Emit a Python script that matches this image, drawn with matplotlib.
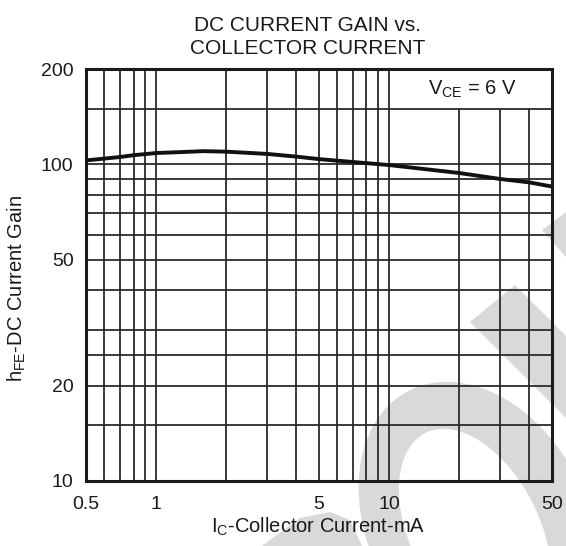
import matplotlib
matplotlib.use('Agg')
import matplotlib.pyplot as plt
from matplotlib.patches import Ellipse, Polygon

plt.rcParams['font.family'] = ['Liberation Sans', 'DejaVu Sans']
plt.rcParams['mathtext.fontset'] = 'custom'
plt.rcParams['mathtext.rm'] = 'Liberation Sans'

# curve
ic = [0.5, 0.6, 0.7, 0.8, 1.0, 1.3, 1.6, 2.0, 3.0, 4.0, 5.0, 10.0, 20.0, 30.0, 40.0, 50.0]
hfe = [103, 104.4, 105.6, 107, 108.7, 109.5, 110.2, 109.8, 108, 105.9, 104, 99.6, 94, 90, 87.8, 85.2]

x_grid = [0.6, 0.7, 0.8, 0.9, 1, 2, 3, 4, 5, 6, 7, 8, 9, 10, 20, 30, 40]
x_short = [20, 30, 40]          # these stop under the V_CE box
y_grid = [15, 20, 25, 30, 40, 50, 60, 70, 80, 90, 100, 150]
x_ticks = [0.5, 1, 5, 10, 50]
y_ticks = [10, 20, 50, 100, 200]

W, H = 566, 546
fig = plt.figure(figsize=(W / 100, H / 100), dpi=100)


def px(x, y):
    return (x / W, 1 - y / H)


# grey watermark pieces behind the grid
wm = '#d9d9d9'
fig.patches.append(Ellipse(px(478, 525), 220 / W, 300 / H, angle=25, transform=fig.transFigure,
                           facecolor=wm, edgecolor='none', zorder=-3))
fig.patches.append(Ellipse(px(475, 532), 130 / W, 220 / H, angle=25, transform=fig.transFigure,
                           facecolor='white', edgecolor='none', zorder=-2))
for pts in ([(470, 322), (515, 285), (566, 336), (566, 418)],
            [(542, 230), (566, 212), (566, 257)],
            [(262, 546), (300, 518), (330, 512), (350, 520), (362, 546)]):
    fig.patches.append(Polygon([px(*p) for p in pts], closed=True, transform=fig.transFigure,
                               facecolor=wm, edgecolor='none', zorder=-3))

ax = fig.add_axes([86 / W, 1 - 480.7 / H, 465.7 / W, 411.4 / H])
ax.set_facecolor('none')
ax.set_xscale('log')
ax.set_yscale('log')
ax.set_xlim(0.5, 50)
ax.set_ylim(10, 200)

gc = '#2a2a2a'
for x in x_grid:
    top = 150 if x in x_short else 200
    ax.vlines(x, 10, top, color=gc, linewidth=1.3, zorder=1)
ax.hlines(y_grid, 0.5, 50, color=gc, linewidth=1.3, zorder=1)

ax.plot(ic, hfe, color='#111111', linewidth=2.8, zorder=3, solid_capstyle='butt')

ax.set_xticks(x_ticks)
ax.set_xticklabels(['0.5', '1', '5', '10', '50'])
ax.set_yticks(y_ticks)
ax.set_yticklabels([str(v) for v in y_ticks])
ax.minorticks_off()
ax.tick_params(length=0, labelsize=14, colors='#1a1a1a')
ax.tick_params(axis='x', pad=11)
ax.tick_params(axis='y', pad=9)
for s in ax.spines.values():
    s.set_linewidth(2.2)
    s.set_color('#1a1a1a')

fig.text(*px(472, 89), r'V$_{\mathregular{CE}}$ = 6 V', fontsize=14.5,
         ha='center', va='center', color='#1a1a1a')
fig.text(*px(308, 37), 'DC CURRENT GAIN vs.\nCOLLECTOR CURRENT', fontsize=15,
         ha='center', va='center', linespacing=1.3, color='#1a1a1a')
fig.text(*px(318, 527), r'I$_{\mathregular{C}}$-Collector Current-mA', fontsize=14.5,
         ha='center', va='center', color='#1a1a1a')
fig.text(*px(17, 288), r'h$_{\mathregular{FE}}$-DC Current Gain', fontsize=14.5,
         ha='center', va='center', rotation=90, color='#1a1a1a')

fig.savefig('out.png', dpi=100)
